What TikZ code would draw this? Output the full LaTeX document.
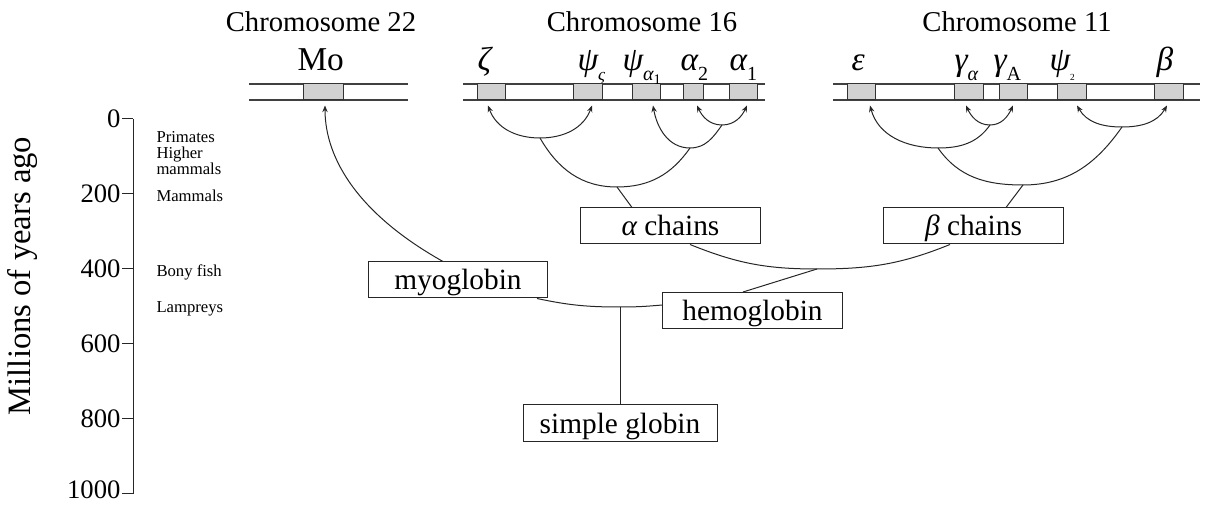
\documentclass[tikz,border=0pt]{standalone}
\usepackage{fontspec}
\setmainfont{Liberation Serif}
\usetikzlibrary{arrows.meta,calc}
\newcommand{\gsb}[3][15]{#2\raisebox{-0.28em}{\fontsize{#1}{#1}\selectfont #3}}
\begin{document}
\begin{tikzpicture}[x=0.75pt,y=-0.75pt, line width=0.75pt,
  chrline/.style={draw=black!75, line width=0.9pt},
  gene/.style={draw=black!80, fill=black!18, inner sep=0pt, minimum height=12pt},
  glabel/.style={font=\fontsize{25}{25}\selectfont, inner sep=0pt, anchor=base west},
  title/.style={font=\fontsize{21.5}{21.5}\selectfont, inner sep=0pt, anchor=base},
  tbox/.style={draw=black!85, inner sep=0pt, minimum width=134.5pt, minimum height=27pt, text height=17pt, text depth=2pt, font=\fontsize{22}{22}\selectfont},
  con/.style={draw=black!85, line width=0.75pt},
  tip/.style={-{Stealth[length=5pt,width=4pt]}},
  tips/.style={{Stealth[length=5pt,width=4pt]}-{Stealth[length=5pt,width=4pt]}},
  axnum/.style={font=\fontsize{20}{20}\selectfont, inner sep=0pt, anchor=east},
  spec/.style={font=\fontsize{12.5}{12.5}\selectfont, inner sep=0pt, anchor=base west}
]
\useasboundingbox (0,0) rectangle (1208,505);

% ---------- titles ----------
\node[title] (t22) at (321,32) {Chromosome 22};
\node[title] (t16) at (642,32) {Chromosome 16};
\node[title] (t11) at (1017,32) {Chromosome 11};

% ---------- chromosome lines ----------
\foreach \a/\b in {249/408, 463/765, 833/1200}{
  \draw[chrline] (\a,84) -- (\b,84);
  \draw[chrline] (\a,100) -- (\b,100);
}

% ---------- gene boxes ----------
\node[gene, minimum width=30pt]    (mo)   at (323,92) {};
\node[gene, minimum width=21pt]    (zeta) at (491,92) {};
\node[gene, minimum width=21.75pt] (psz)  at (587.5,92) {};
\node[gene, minimum width=21pt]    (psa)  at (646,92) {};
\node[gene, minimum width=15pt]    (al2)  at (693,92) {};
\node[gene, minimum width=21pt]    (al1)  at (743,92) {};
\node[gene, minimum width=21pt]    (eps)  at (861,92) {};
\node[gene, minimum width=21.75pt] (gal)  at (968.5,92) {};
\node[gene, minimum width=21pt]    (gA)   at (1013,92) {};
\node[gene, minimum width=21.75pt] (ps2)  at (1071.5,92) {};
\node[gene, minimum width=21.75pt] (beta) at (1168.5,92) {};

% ---------- gene labels ----------
\node[glabel] (lmo)   at (297,71) {Mo};
\node[glabel] (lzeta) at (477,71) {\itshape ζ};
\node[glabel] (lpsz)  at (577,71) {\gsb[13]{{\itshape ψ}}{{\itshape ς}}};
\node[glabel] (lpsa)  at (622,71) {\gsb{{\itshape ψ}}{{\itshape α}\raisebox{-0.2em}{\fontsize{11}{11}\selectfont 1}}};
\node[glabel] (lal2)  at (680,71) {\gsb{{\itshape α}}{2}};
\node[glabel] (lal1)  at (729,71) {\gsb{{\itshape α}}{1}};
\node[glabel] (leps)  at (851,71) {\itshape ε};
\node[glabel] (lgal)  at (954,71) {\gsb{{\itshape γ}}{{\itshape α}}};
\node[glabel] (lgA)   at (993,71) {\gsb{{\itshape γ}}{A}};
\node[glabel] (lps2)  at (1049,71) {\gsb[7]{{\itshape ψ}}{2}};
\node[glabel] (lbeta) at (1156,71) {\itshape β};

% ---------- named boxes ----------
\node[tbox] (myo)  at (458,280) {myoglobin};
\node[tbox] (ach)  at (670.5,226) {{\itshape α} chains};
\node[tbox] (bch)  at (973.5,226) {{\itshape β} chains};
\node[tbox] (hem)  at (752.5,310.5) {hemoglobin};
\node[tbox, minimum width=145.5pt, minimum height=27.75pt] (sg) at (620,423.5) {simple globin};

% ---------- junctions ----------
\coordinate (j16a) at (540,138);
\coordinate (j16b) at (722,125);
\coordinate (j16c) at (690,148);
\coordinate (j16d) at (617,187);
\coordinate (j11a) at (990,125);
\coordinate (j11b) at (1122,127);
\coordinate (j11c) at (938,148);
\coordinate (j11d) at (1023,185);
\coordinate (jhb)  at (817,269);
\coordinate (jg)   at (620,307);

% ---------- chromosome 16 connectors ----------
\draw[con,tips] ($(zeta.south)+(-3,5)$) to[out=-70,in=180] (j16a) to[out=0,in=-110] ($(psz.south)+(4.5,5)$);
\draw[con,tips] ($(al2.south)+(4,5)$) to[out=-65,in=180] (j16b) to[out=0,in=-115] ($(al1.south)+(4,5)$);
\draw[con,tip] (j16b) to[in=0,out=-125] (j16c) to[out=180,in=-80] ($(psa.south)+(7,5)$);
\draw[con] (j16a) to[out=-60,in=180] (j16d) to[out=0,in=-125] (j16c);
\draw[con] (j16d) -- (ach.north -| 632,0);

% ---------- chromosome 11 connectors ----------
\draw[con,tips] ($(gal.south)+(-2.5,5)$) to[out=-65,in=180] (j11a) to[out=0,in=-115] ($(gA.south)+(0,5)$);
\draw[con,tips] ($(ps2.south)+(5.5,5)$) to[out=-60,in=180] (j11b) to[out=0,in=-120] ($(beta.south)+(-1.5,5)$);
\draw[con,tip] (j11a) to[out=-125,in=0] (j11c) to[out=180,in=-75] ($(eps.south)+(9,5)$);
\draw[con] (j11c) to[out=-55,in=180] (j11d) to[out=0,in=-125] (j11b);
\draw[con] (j11d) -- (bch.north -| 1006,0);

% ---------- myoglobin to Mo ----------
\draw[con,tip] (myo.north -| 443,0) .. controls (360,215) and (325,160) .. ($(mo.south)+(2,5)$);

% ---------- lower tree ----------
\draw[con] (ach.south -| 690,0) to[out=-22,in=180] (jhb) to[out=0,in=-158] (bch.south -| 950,0);
\draw[con] (jhb) -- (hem.north -| 743,0);
\draw[con] (myo.south -| 537,0) to[out=-12,in=180] (jg) to[out=0,in=-175] (hem.west |- 0,305);
\draw[con] (jg) -- (sg.north);

% ---------- time axis ----------
\draw[con] (133,119) -- (133,494);
\foreach \y/\ly/\t in {119/119/0, 194/194/200, 269/269/400, 344/344/600, 419/419/800, 494/490/1000}{
  \draw[con] (122,\y) -- (133,\y);
  \node[axnum] at (121,\ly) {\t};
}
\node[font=\fontsize{24.5}{24.5}\selectfont, rotate=90, inner sep=0pt] (mya) at (23,276) {Millions of years ago};
\node[spec] (sp1) at (156,143) {Primates};
\node[spec] (sp2a) at (156,159) {Higher};
\node[spec] (sp2b) at (156,175) {mammals};
\node[spec] (sp3) at (156,202) {Mammals};
\node[spec] (sp4) at (156,277) {Bony fish};
\node[spec] (sp5) at (156,313) {Lampreys};
\end{tikzpicture}
\end{document}
